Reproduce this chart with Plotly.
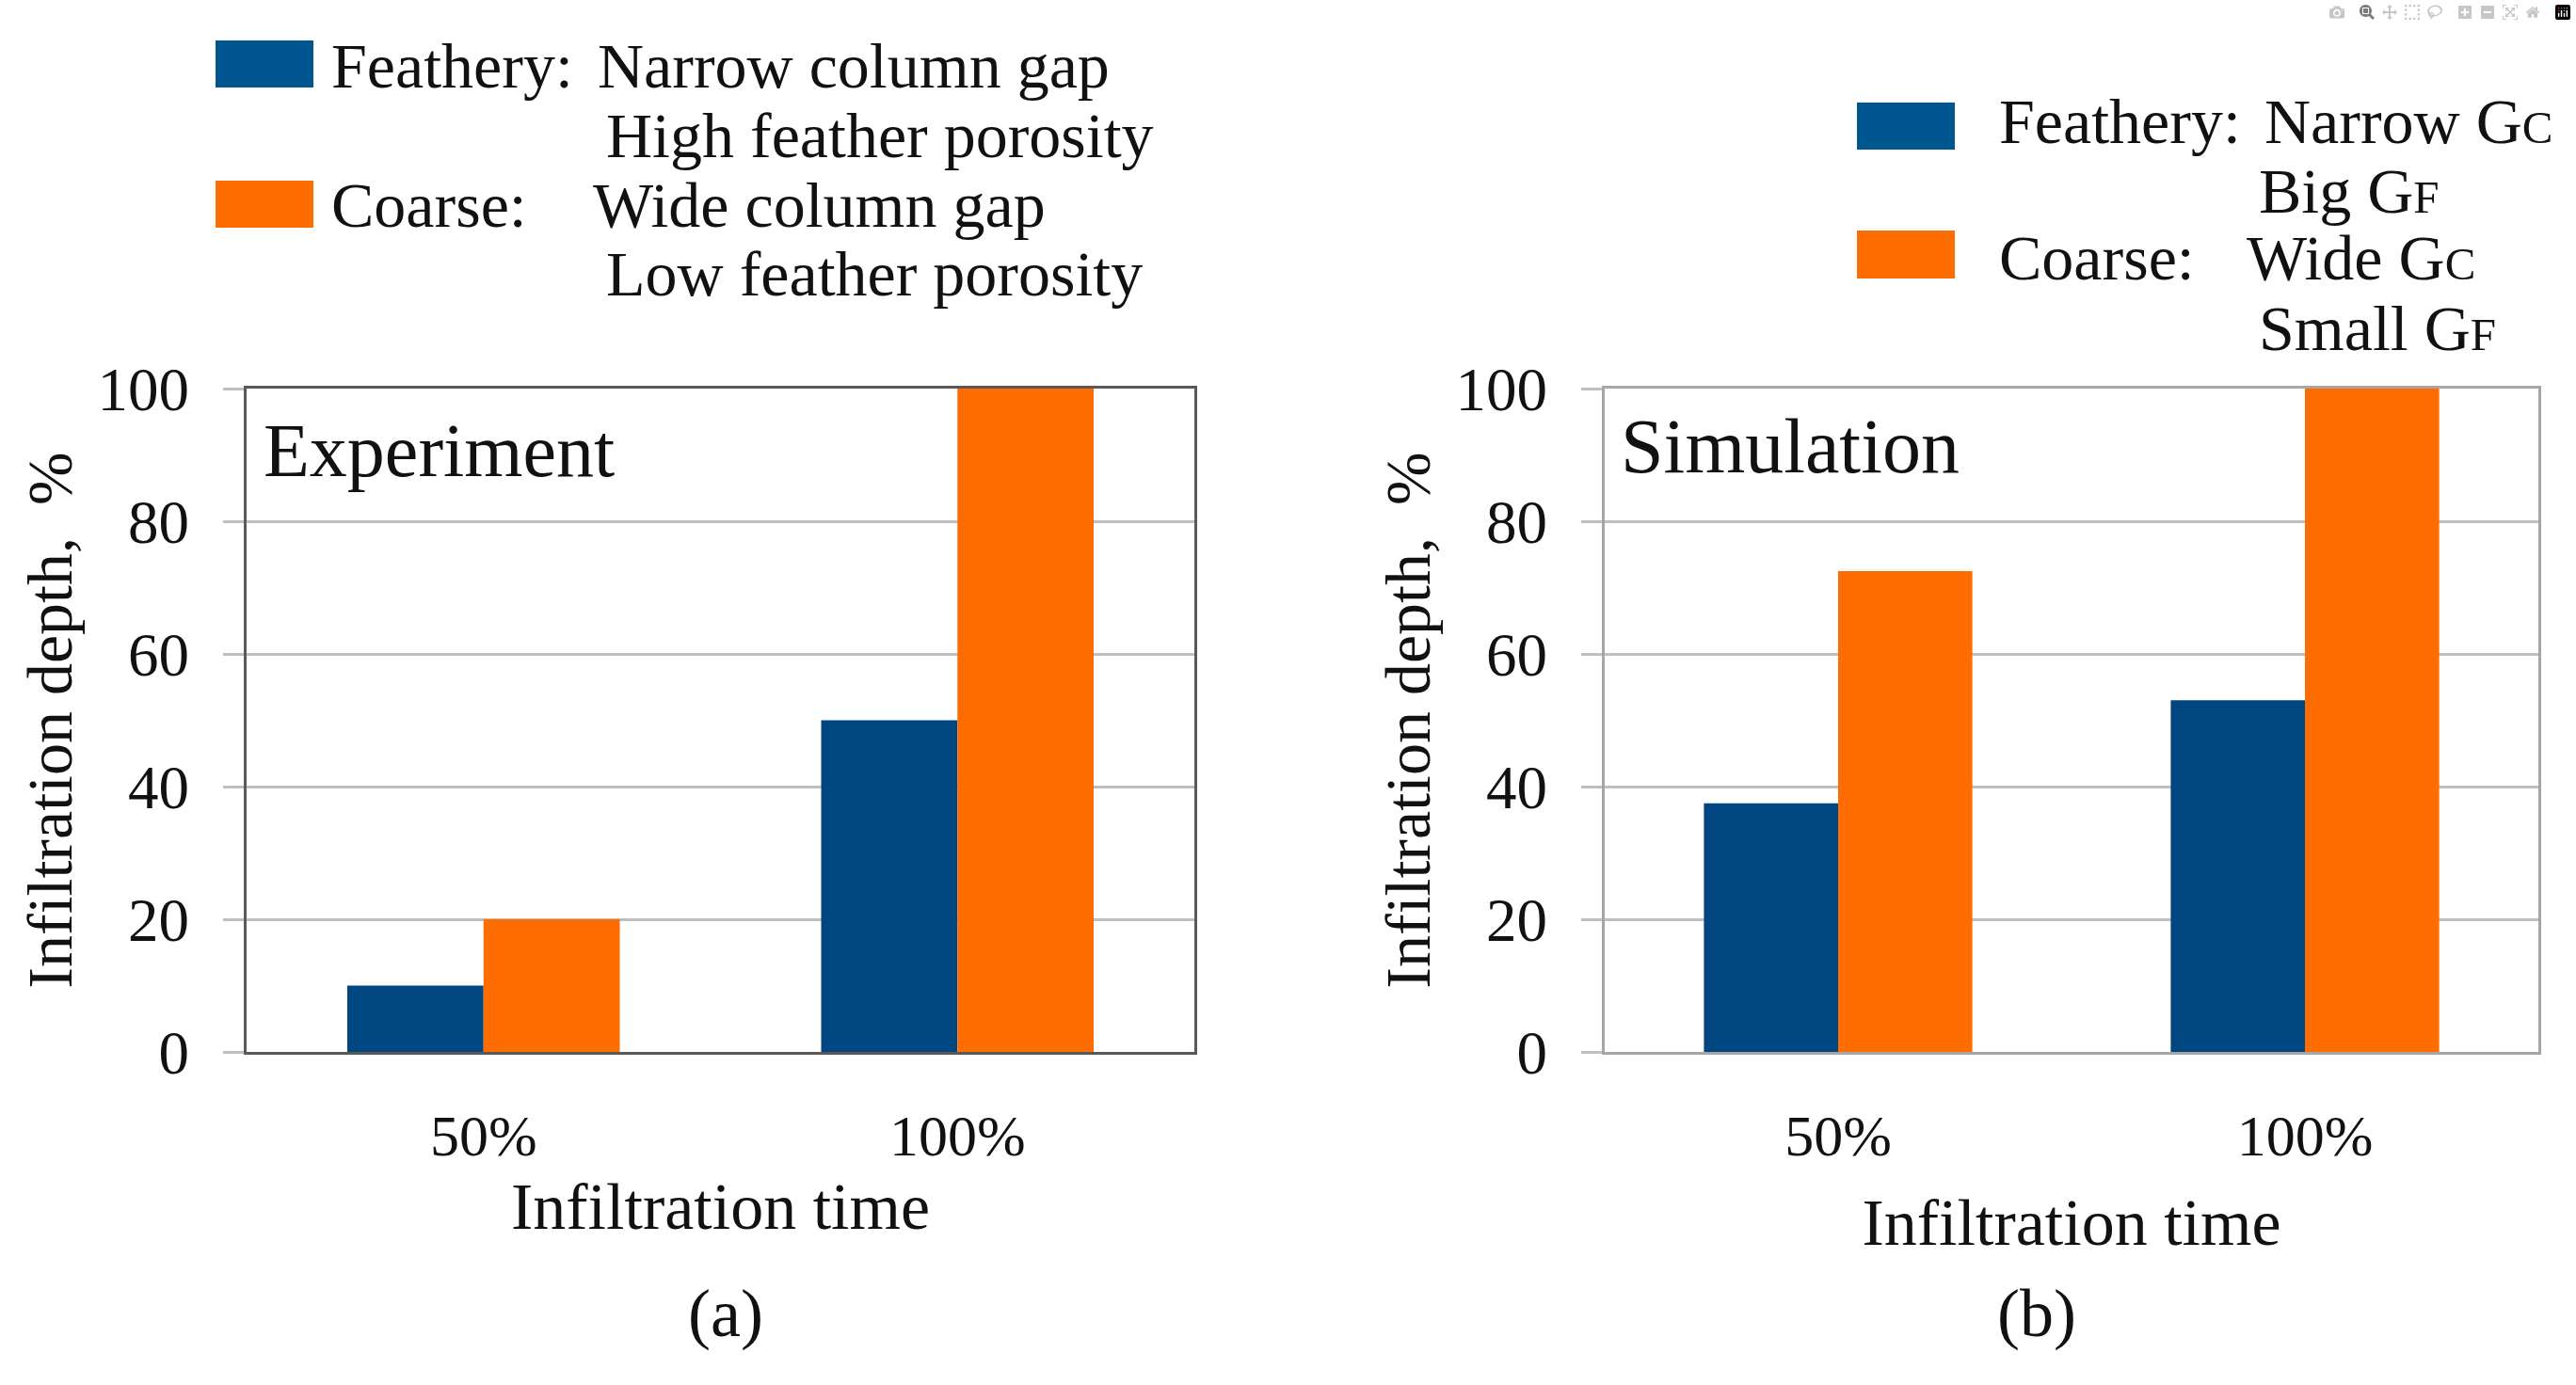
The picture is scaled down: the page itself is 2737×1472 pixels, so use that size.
import plotly.graph_objects as go

# ---------------- data ----------------
categories = ["50%", "100%"]
exp_feathery = [10, 50]
exp_coarse = [20, 100]
sim_feathery = [37.5, 53]
sim_coarse = [72.5, 100]
y_ticks = [0, 20, 40, 60, 80, 100]

# ---------------- styling ----------------
W, H = 2737, 1472
FONT = "Liberation Serif"
BLUE = "#004680"
ORANGE = "#ff6c00"
BLUE_SW = "#00568f"
GRID = "#bfbfbf"


def px(x):
    return x / W


def py(y):
    return 1 - y / H


fig = go.Figure()
fig.add_trace(go.Bar(x=categories, y=exp_feathery, name="Feathery", marker_color=BLUE,
                     marker_line_width=0, xaxis="x", yaxis="y", showlegend=False))
fig.add_trace(go.Bar(x=categories, y=exp_coarse, name="Coarse", marker_color=ORANGE,
                     marker_line_width=0, xaxis="x", yaxis="y", showlegend=False))
fig.add_trace(go.Bar(x=categories, y=sim_feathery, name="Feathery", marker_color=BLUE,
                     marker_line_width=0, xaxis="x2", yaxis="y2", showlegend=False))
fig.add_trace(go.Bar(x=categories, y=sim_coarse, name="Coarse", marker_color=ORANGE,
                     marker_line_width=0, xaxis="x2", yaxis="y2", showlegend=False))

ydom = [py(1118), py(413)]


def xax(domain, anchor, linecolor, standoff):
    return dict(domain=domain, anchor=anchor, type="category", automargin=False,
                categoryorder="array", categoryarray=categories,
                showline=True, linecolor=linecolor, linewidth=3, mirror=True,
                ticks="", showgrid=False, ticklabelstandoff=33,
                tickfont=dict(family=FONT, size=62, color="#111111"),
                title=dict(text="Infiltration time", standoff=standoff,
                           font=dict(family=FONT, size=70, color="#111111")))


def yax(anchor, linecolor):
    return dict(domain=ydom, anchor=anchor, range=[0, 100], tickvals=y_ticks,
                automargin=False,
                showgrid=True, gridcolor=GRID, gridwidth=3, zeroline=False,
                showline=True, linecolor=linecolor, linewidth=3, mirror=True,
                ticks="outside", ticklen=22, tickwidth=3, tickcolor=GRID,
                ticklabelstandoff=23,
                tickfont=dict(family=FONT, size=65, color="#111111"),
                title=dict(text="Infiltration depth,  %", standoff=5,
                           font=dict(family=FONT, size=68, color="#111111")))


fig.update_layout(
    width=W, height=H,
    margin=dict(l=0, r=0, t=0, b=0, pad=0, autoexpand=False),
    paper_bgcolor="white", plot_bgcolor="white",
    barmode="group", bargap=0.425, bargroupgap=0,
    font=dict(family=FONT, color="#111111"),
    xaxis=xax([px(262), px(1269)], "y", "#595959", 17),
    yaxis=yax("x", "#595959"),
    xaxis2=xax([px(1705), px(2697)], "y2", "#a6a6a6", 34),
    yaxis2=yax("x2", "#a6a6a6"),
)

# ---------------- legends (swatches + text) ----------------
shapes = []
annotations = []


def swatch(x0, x1, y0, y1, color):
    shapes.append(dict(type="rect", xref="paper", yref="paper",
                       x0=px(x0), x1=px(x1), y0=py(y1), y1=py(y0),
                       fillcolor=color, line=dict(width=0), layer="above"))


def label(text, x, y, size=68, xanchor="left"):
    annotations.append(dict(text=text, xref="paper", yref="paper",
                            x=px(x), y=py(y), xanchor=xanchor, yanchor="middle",
                            showarrow=False,
                            font=dict(family=FONT, size=size, color="#111111")))


# left legend
swatch(229, 333, 43, 93, BLUE_SW)
swatch(229, 333, 192, 242, ORANGE)
label("Feathery:", 350, 70)
label("Narrow column gap", 633, 70)
label("High feather porosity", 642, 144)
label("Coarse:", 350, 218)
label("Wide column gap", 628, 218)
label("Low feather porosity", 642, 291)

# right legend
sc = lambda ch: '<span style="font-size:49px">' + ch + "</span>"
swatch(1973, 2077, 109, 159, BLUE_SW)
swatch(1973, 2077, 245, 296, ORANGE)
label("Feathery:", 2122, 129)
label("Narrow G" + sc("C"), 2404, 129)
label("Big G" + sc("F"), 2398, 203)
label("Coarse:", 2122, 274)
label("Wide G" + sc("C"), 2385, 274)
label("Small G" + sc("F"), 2398, 349)

# panel titles
label("Experiment", 278, 479, size=80)
label("Simulation", 1720, 475, size=82)

# sub-figure labels
label("(a)", 771, 1396, size=72, xanchor="center")
label("(b)", 2164, 1396, size=72, xanchor="center")

fig.update_layout(shapes=shapes, annotations=annotations)

fig.write_html("out.html", post_script="document.body.style.margin='0';")
